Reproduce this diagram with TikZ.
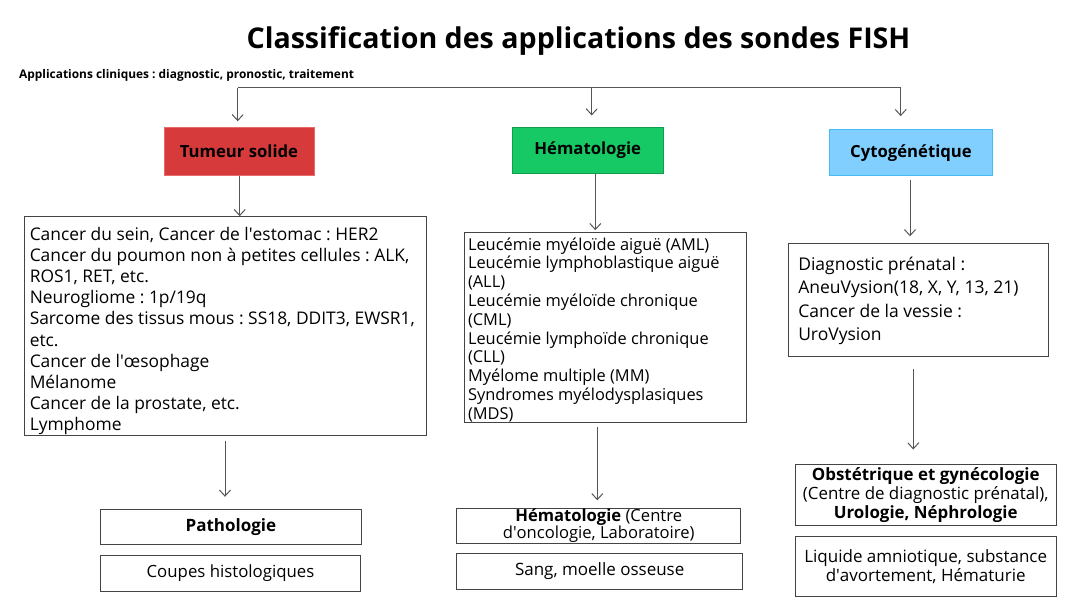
\documentclass[tikz,border=0pt]{standalone}
\usepackage{fontspec}
\setmainfont{Open Sans}
\usetikzlibrary{arrows.meta,calc}
\definecolor{redfill}{HTML}{D63A3B}
\definecolor{redline}{HTML}{E86A6A}
\definecolor{greenfill}{HTML}{16C965}
\definecolor{greenline}{HTML}{0E9E4E}
\definecolor{bluefill}{HTML}{80CFFF}
\definecolor{blueline}{HTML}{45BCF5}
\definecolor{linegray}{HTML}{555555}
\definecolor{boxgray}{HTML}{444444}
\newcommand{\aq}{\textquotesingle}
\frenchspacing
\begin{document}
\frenchspacing
\begin{tikzpicture}[x=1pt,y=-1pt,
  arr/.style={draw=linegray, line width=1pt, -{Straight Barb[length=6pt,width=11pt]}},
  plain/.style={draw=linegray, line width=1pt},
  catbox/.style={line width=1pt, inner sep=0pt, align=center, font=\bfseries\fontsize{16.7}{20}\selectfont},
  box/.style={draw=boxgray, line width=1pt, fill=white, inner sep=0pt, align=center},
  listbox/.style={draw=boxgray, line width=1pt, fill=white, inner sep=0pt},
  listtext/.style={anchor=west, align=left, inner sep=0pt}
]
\useasboundingbox (0,0) rectangle (1080,610);

% titles
\node[font=\bfseries\fontsize{28.6}{32}\selectfont] (title) at (578.5,41) {Classification des applications des sondes FISH};
\node[font=\bfseries\fontsize{11.9}{13}\selectfont, anchor=west, inner sep=0pt] (sub) at (19,75) {Applications cliniques : diagnostic, pronostic, traitement};

% category boxes
\node[catbox, fill=redfill, draw=redline, minimum width=150, minimum height=47.5] (tum) at (239,151.5) {Tumeur solide};
\node[catbox, fill=greenfill, draw=greenline, minimum width=151, minimum height=46] (hem) at (587.7,150) {Hématologie};
\node[catbox, fill=bluefill, draw=blueline, minimum width=163.4, minimum height=46.3] (cyto) at (911,152.8) {Cytogénétique};

% list boxes
\node[listbox, minimum width=402.7, minimum height=218.6] (left) at (225.4,326) {};
\node[listtext, font=\fontsize{17.4}{21.2}\selectfont] (lefttxt) at ([xshift=6pt,yshift=-5pt]left.west) {Cancer du sein, Cancer de l\aq estomac : HER2\\
Cancer du poumon non à petites cellules : ALK,\\
ROS1, RET, etc.\\
Neurogliome : 1p/19q\\
Sarcome des tissus mous : SS18, DDIT3, EWSR1,\\
etc.\\
Cancer de l\aq œsophage\\
Mélanome\\
Cancer de la prostate, etc.\\
Lymphome};

\node[listbox, minimum width=282, minimum height=190] (mid) at (605,327.7) {};
\node[listtext, font=\fontsize{16.4}{18.8}\selectfont] (midtxt) at ([xshift=4.3pt,yshift=-2pt]mid.west) {Leucémie myéloïde aiguë (AML)\\
Leucémie lymphoblastique aiguë\\
(ALL)\\
Leucémie myéloïde chronique\\
(CML)\\
Leucémie lymphoïde chronique\\
(CLL)\\
Myélome multiple (MM)\\
Syndromes myélodysplasiques\\
(MDS)};

\node[listbox, minimum width=260.3, minimum height=113.4] (right) at (918.2,300) {};
\node[listtext, font=\fontsize{17.5}{23.5}\selectfont] (righttxt) at ([xshift=10.5pt,yshift=-1pt]right.west) {Diagnostic prénatal :\\
AneuVysion(18, X, Y, 13, 21)\\
Cancer de la vessie :\\
UroVysion};

% bottom boxes
\node[box, minimum width=260.3, minimum height=35.4, font=\bfseries\fontsize{17}{19}\selectfont] (path) at (230.9,527) {Pathologie};
\node[box, minimum width=259.6, minimum height=35.7, font=\fontsize{16.8}{19}\selectfont] (coupes) at (230.5,573.2) {Coupes histologiques};
\node[box, minimum width=284, minimum height=35, font=\fontsize{16.6}{16}\selectfont] (hem2) at (598.7,525.8) {\textbf{Hématologie} (Centre\\d\aq oncologie, Laboratoire)};
\node[box, minimum width=286, minimum height=36, font=\fontsize{17}{19}\selectfont] (sang) at (599.7,571.3) {Sang, moelle osseuse};
\node[box, minimum width=260.7, minimum height=61.4, font=\fontsize{16.9}{18.7}\selectfont] (obst) at (925.7,495) {\textbf{Obstétrique et gynécologie}\\(Centre de diagnostic prénatal),\\\textbf{Urologie, Néphrologie}};
\node[box, minimum width=260.7, minimum height=60.4, font=\fontsize{17}{18.5}\selectfont] (liq) at (925.7,566.5) {Liquide amniotique, substance\\d\aq avortement, Hématurie};

% top connector
\coordinate (j1) at (237.7,88);
\coordinate (j2) at (591.7,88);
\coordinate (j3) at (900.7,88);
\draw[plain] (j1) -- (j3);
\draw[arr, shorten >=6pt] (j1) -- (j1 |- tum.north);
\draw[arr, shorten >=11pt] (j2) -- (j2 |- hem.north);
\draw[arr, shorten >=13pt] (j3) -- (j3 |- cyto.north);

% category -> list
\draw[arr] ([xshift=0.7pt]tum.south) -- ([xshift=0.7pt]tum.south |- left.north);
\draw[arr, shorten >=2pt] ([xshift=7.6pt]hem.south) -- ([xshift=7.6pt]hem.south |- mid.north);
\draw[arr, shorten <=4pt, shorten >=6.5pt] ([xshift=-1pt]cyto.south) -- ([xshift=-1pt]cyto.south |- right.north);

% list -> bottom
\draw[arr, shorten <=4.7pt, shorten >=12pt] ([xshift=-0.4pt]left.south) -- ([xshift=-0.4pt]left.south |- path.north);
\draw[arr, shorten <=4pt, shorten >=7.5pt] ([xshift=-1.4pt]hem2.north |- mid.south) -- ([xshift=-1.4pt]hem2.north);
\draw[arr, shorten <=11.6pt, shorten >=14.3pt] ([xshift=-4.9pt]right.south) -- ([xshift=-4.9pt]right.south |- obst.north);
\end{tikzpicture}
\end{document}
